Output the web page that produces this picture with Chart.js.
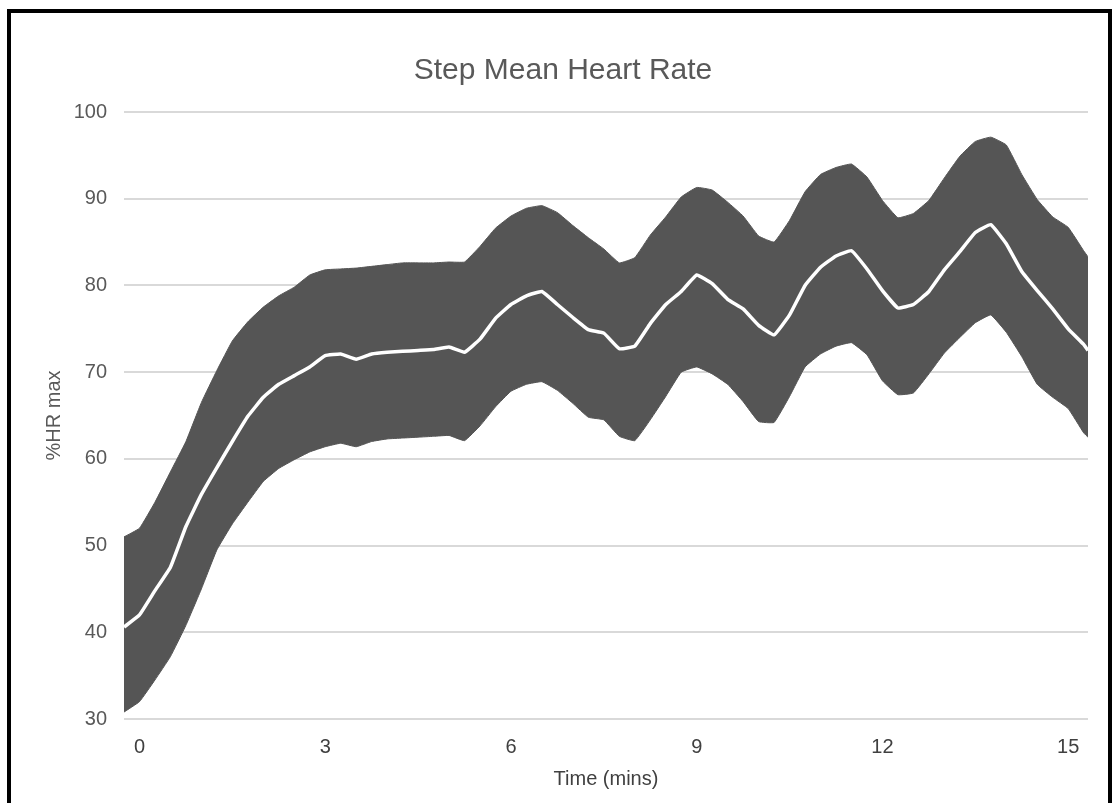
<!DOCTYPE html>
<html>
<head>
<meta charset="utf-8">
<title>Step Mean Heart Rate</title>
<script src="https://cdn.jsdelivr.net/npm/chart.js@4.4.1/dist/chart.umd.min.js"></script>
<style>
  html, body { margin: 0; padding: 0; background: #fff; overflow: hidden; }
  #wrap { position: relative; width: 1112px; height: 803px; }
  #frame {
    position: absolute; left: 7px; top: 9px; width: 1105px; height: 820px;
    box-sizing: border-box; border: 4px solid #000; pointer-events: none;
  }
  canvas { position: absolute; left: 0; top: 0; }
</style>
</head>
<body>
<div id="wrap">
  <canvas id="myChart" width="1112" height="803"></canvas>
  <div id="frame"></div>
</div>
<script>
// time in minutes
const timeValues = [
  -0.25, 0, 0.25, 0.5, 0.75, 1, 1.25, 1.5, 1.75, 2, 2.25, 2.5, 2.75,
  3, 3.25, 3.5, 3.75, 4, 4.25, 4.5, 4.75, 5, 5.25, 5.5, 5.75,
  6, 6.25, 6.5, 6.75, 7, 7.25, 7.5, 7.75, 8, 8.25, 8.5, 8.75,
  9, 9.25, 9.5, 9.75, 10, 10.25, 10.5, 10.75, 11, 11.25, 11.5, 11.75,
  12, 12.25, 12.5, 12.75, 13, 13.25, 13.5, 13.75, 14, 14.25, 14.5, 14.75,
  15, 15.25, 15.32
];

// mean %HR max
const meanValues = [
  40.6, 42.0, 44.8, 47.5, 52.2, 55.9, 59.0, 62.0, 64.9, 67.1, 68.6, 69.6, 70.6,
  71.9, 72.1, 71.5, 72.1, 72.3, 72.4, 72.5, 72.6, 72.9, 72.3, 73.8, 76.2,
  77.8, 78.8, 79.3, 77.8, 76.3, 74.9, 74.5, 72.7, 73.0, 75.6, 77.8, 79.3,
  81.2, 80.2, 78.4, 77.3, 75.4, 74.3, 76.6, 80.0, 82.1, 83.4, 84.0, 81.9,
  79.4, 77.4, 77.8, 79.3, 81.8, 83.9, 86.1, 87.0, 84.8, 81.6, 79.4, 77.3,
  75.0, 73.2, 72.5
];

// error bar top
const upperValues = [
  51.0, 52.0, 55.0, 58.5, 62.0, 66.5, 70.2, 73.6, 75.8, 77.5, 78.8, 79.8, 81.2,
  81.8, 81.9, 82.0, 82.2, 82.4, 82.6, 82.6, 82.6, 82.7, 82.7, 84.5, 86.6,
  88.0, 88.9, 89.2, 88.4, 86.9, 85.5, 84.2, 82.6, 83.2, 85.8, 87.9, 90.2,
  91.3, 91.0, 89.6, 88.0, 85.7, 85.0, 87.5, 90.8, 92.8, 93.6, 94.0, 92.5,
  89.8, 87.8, 88.3, 89.8, 92.4, 94.9, 96.6, 97.1, 96.2, 92.8, 89.9, 87.9,
  86.7, 84.0, 83.3
];

// error bar bottom
const lowerValues = [
  30.8, 32.0, 34.5, 37.2, 40.8, 45.0, 49.5, 52.5, 55.0, 57.4, 58.9, 59.9, 60.8,
  61.4, 61.8, 61.4, 62.0, 62.3, 62.4, 62.5, 62.6, 62.7, 62.1, 63.8, 66.0,
  67.8, 68.6, 68.9, 67.9, 66.4, 64.8, 64.5, 62.6, 62.1, 64.5, 67.2, 70.0,
  70.6, 69.8, 68.6, 66.6, 64.3, 64.2, 67.2, 70.6, 72.1, 73.0, 73.4, 72.0,
  69.0, 67.4, 67.6, 69.8, 72.2, 74.0, 75.7, 76.6, 74.6, 71.8, 68.6, 67.1,
  65.8, 63.0, 62.5
];

const xTicks = [0, 3, 6, 9, 12, 15];
const yTicks = [30, 40, 50, 60, 70, 80, 90, 100];

function toPoints(values) {
  return values.map((v, i) => ({ x: timeValues[i], y: v }));
}

const ctx = document.getElementById('myChart');

const myChart = new Chart(ctx, {
  type: 'line',
  data: {
    datasets: [
      {
        label: 'Mean',
        data: toPoints(meanValues),
        borderColor: '#ffffff',
        borderWidth: 3.5,
        pointRadius: 0,
        tension: 0.1,
        fill: false,
      },
      {
        label: 'Upper',
        data: toPoints(upperValues),
        borderColor: '#555555',
        borderWidth: 1,
        backgroundColor: '#555555',
        pointRadius: 0,
        tension: 0.1,
        fill: '+1',
      },
      {
        label: 'Lower',
        data: toPoints(lowerValues),
        borderColor: '#555555',
        borderWidth: 1,
        pointRadius: 0,
        tension: 0.1,
        fill: false,
      },
    ],
  },
  options: {
    responsive: false,
    animation: false,
    layout: {
      padding: { left: 38, right: 24, top: 0, bottom: 4 },
    },
    plugins: {
      legend: { display: false },
      tooltip: { enabled: false },
      title: {
        display: true,
        text: 'Step Mean Heart Rate',
        color: '#595959',
        font: { family: 'Liberation Sans, Arial, sans-serif', size: 30, weight: 'normal' },
        padding: { top: 53, bottom: 23 },
      },
    },
    scales: {
      x: {
        type: 'linear',
        min: -0.25,
        max: 15.32,
        afterBuildTicks: (scale) => {
          scale.ticks = xTicks.map((v) => ({ value: v }));
        },
        afterFit: (scale) => {
          scale.height = 80;
        },
        grid: { display: false },
        border: { display: false },
        ticks: {
          color: '#404040',
          padding: 8,
          maxRotation: 0,
          font: { family: 'Liberation Sans, Arial, sans-serif', size: 20 },
        },
        title: {
          display: true,
          text: 'Time (mins)',
          color: '#404040',
          padding: { top: 0, bottom: 8 },
          font: { family: 'Liberation Sans, Arial, sans-serif', size: 20 },
        },
      },
      y: {
        min: 30,
        max: 100,
        afterBuildTicks: (scale) => {
          scale.ticks = yTicks.map((v) => ({ value: v }));
        },
        afterFit: (scale) => {
          scale.width = 86;
        },
        grid: { color: '#d9d9d9', lineWidth: 2, drawTicks: false },
        border: { display: false },
        ticks: {
          color: '#595959',
          padding: 17,
          font: { family: 'Liberation Sans, Arial, sans-serif', size: 20 },
        },
        title: {
          display: true,
          text: '%HR max',
          color: '#595959',
          padding: { top: 4, bottom: 0 },
          font: { family: 'Liberation Sans, Arial, sans-serif', size: 20 },
        },
      },
    },
  },
});
</script>
</body>
</html>
